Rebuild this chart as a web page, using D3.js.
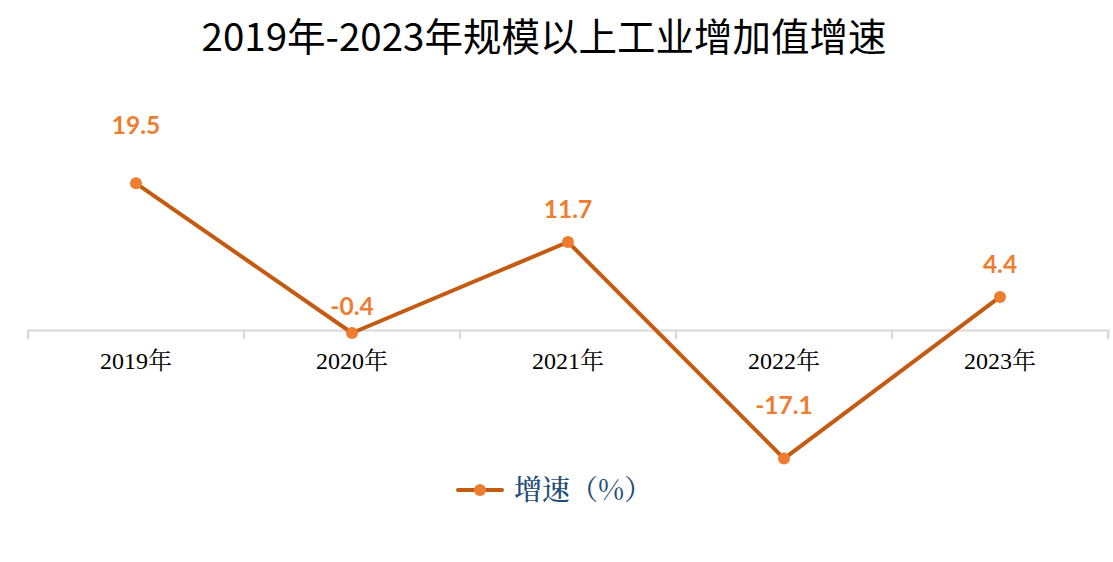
<!DOCTYPE html>
<html><head><meta charset="utf-8">
<script src="https://cdn.jsdelivr.net/npm/d3@7/dist/d3.min.js"></script>
<style>body{margin:0;background:#fff;}svg{display:block;}</style>
</head><body>
<svg id="chart" width="1113" height="562"></svg>
<script>
const titleText = "2019年-2023年规模以上工业增加值增速";
const categories = ["2019年","2020年","2021年","2022年","2023年"];
const values = [19.5, -0.4, 11.7, -17.1, 4.4];
const labelTexts = ["19.5","-0.4","11.7","-17.1","4.4"];
const seriesName = "增速（%）";
const labelLift = [49, 18, 24, 45, 24];

const W = 1113, H = 562;
const svg = d3.select("#chart");
svg.append("rect").attr("width", W).attr("height", H).attr("fill", "#fff");

const x = d3.scaleBand().domain(categories).range([28, 1108]).padding(0);
const y = d3.scaleLinear().domain([-20, 25]).range([330 + 20 * 7.52, 330 - 25 * 7.52]);

svg.append("text").attr("x", 544).attr("y", 51).attr("text-anchor", "middle")
  .attr("font-family", "'Noto Sans CJK SC', 'Noto Sans', sans-serif")
  .attr("font-size", 38.5).attr("fill", "#000").text(titleText);

// axis
const axis = d3.axisBottom(x).tickSize(9).tickSizeOuter(9).tickFormat(d => d);
const gx = svg.append("g").attr("transform", `translate(0,${y(0)})`).call(axis);
gx.select(".domain").attr("stroke", "#d9d9d9").attr("stroke-width", 2);
gx.selectAll(".tick line").remove();
const bounds = categories.map(c => x(c)).concat([x.range()[1]]);
gx.selectAll(".bline").data(bounds).join("line").attr("class","bline")
  .attr("x1", d => d).attr("x2", d => d).attr("y1", 0).attr("y2", 9)
  .attr("stroke", "#d9d9d9").attr("stroke-width", 2);
gx.selectAll(".tick text").attr("y", 22).attr("dy", "0.71em")
  .attr("font-family", "'Liberation Serif', 'Noto Serif CJK SC', 'Noto Sans CJK SC', serif")
  .attr("font-size", 24).attr("fill", "#000");
gx.selectAll(".tick").attr("transform", d => `translate(${x(d) + x.bandwidth()/2},0)`);

const cx = d => x(d) + x.bandwidth() / 2;
const pts = categories.map((c, i) => ({c, v: values[i], t: labelTexts[i], lift: labelLift[i]}));

svg.append("path").datum(pts)
  .attr("d", d3.line().x(d => cx(d.c)).y(d => y(d.v)))
  .attr("fill", "none").attr("stroke", "#C55A11").attr("stroke-width", 4)
  .attr("stroke-linejoin", "round").attr("stroke-linecap", "round");

svg.selectAll(".pt").data(pts).join("circle").attr("class","pt")
  .attr("cx", d => cx(d.c)).attr("cy", d => y(d.v)).attr("r", 6).attr("fill", "#ED7D31");

svg.selectAll(".lbl").data(pts).join("text").attr("class","lbl")
  .attr("x", d => cx(d.c)).attr("y", d => y(d.v) - d.lift)
  .attr("text-anchor", "middle").attr("font-family", "Lato, 'Open Sans', sans-serif")
  .attr("font-weight", "bold").attr("font-size", 24.5).attr("fill", "#ED7D31")
  .text(d => d.t);

// legend
const lg = svg.append("g");
lg.append("line").attr("x1", 458).attr("x2", 502).attr("y1", 490).attr("y2", 490)
  .attr("stroke", "#C55A11").attr("stroke-width", 4).attr("stroke-linecap","round");
lg.append("circle").attr("cx", 480).attr("cy", 490).attr("r", 6).attr("fill", "#ED7D31");
lg.append("text").attr("x", 514).attr("y", 500)
  .attr("font-family", "'Noto Serif CJK SC', 'Noto Sans CJK SC', serif")
  .attr("font-size", 28).attr("font-weight", 500).attr("fill", "#1F4E79").text(seriesName);
</script>
</body></html>
